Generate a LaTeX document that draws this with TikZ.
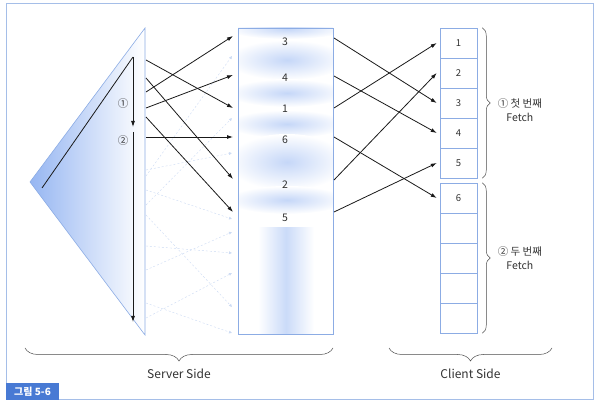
\documentclass[tikz,border=0pt]{standalone}
\usepackage{fontspec}
\setmainfont{Noto Sans CJK KR}
\usetikzlibrary{arrows.meta,decorations.pathreplacing}
\definecolor{frameblue}{RGB}{165,190,232}
\definecolor{lineblue}{RGB}{140,172,228}
\definecolor{tagblue}{RGB}{72,122,212}
\definecolor{bandblue}{RGB}{150,182,242}
\definecolor{txt}{RGB}{50,50,50}
\tikzset{
  arr/.style={-{Latex[length=6pt,width=4pt]},line width=.8pt,black!90},
  ghost/.style={dash pattern=on 2pt off 2pt,draw=lineblue!45,line width=.4pt,-{Latex[length=3pt,width=3pt]}},
  cell/.style={draw=lineblue,line width=.5pt,minimum width=37pt,minimum height=30pt,inner sep=0pt,font=\fontsize{9.5}{9.5}\selectfont,text=txt},
  num/.style={font=\fontsize{10.5}{10.5}\selectfont,text=txt},
  brc/.style={decorate,decoration={brace,amplitude=#1},draw=black!70,line width=.5pt},
}
\begin{document}
\begin{tikzpicture}[x=1pt,y=-1pt]
\useasboundingbox (0,0) rectangle (598,406);
\draw[frameblue,line width=1pt] (6,4) rectangle (593,400);
\fill[tagblue] (6,383) rectangle (59,400);
\node[text=white,font=\fontsize{10}{10}\selectfont\bfseries] (tag) at (32.5,391.5) {그림 5-6};
% server side
\shade[left color=bandblue,right color=white] (145,28) -- (30,182) -- (145,335) -- cycle;
\draw[lineblue,line width=.6pt] (145,28) -- (30,182) -- (145,335) -- cycle;
\coordinate (s0) at (42,188);
\coordinate (s1) at (133,57);
\coordinate (s2) at (133,127);
\coordinate (s3) at (133,132);
\coordinate (s4) at (133,322);
\draw[line width=.8pt,black!90] (s0) -- (s1);
\draw[arr] (s1) -- (s2);
\draw[arr] (s3) -- (s4);
\node[num] (f1) at (123,104) {①};
\node[num] (f2) at (123,141) {②};
% buffer
\begin{scope}
\clip (238,28) rectangle (333,334);
\foreach \y/\h in {29/5,60/10,93/7,124/7,162/14,200/7}
  \shade[inner color=bandblue!55,outer color=white] (287,\y) ellipse [x radius=60,y radius=2*\h];
\shade[left color=white,right color=white,middle color=bandblue!50] (258,228) rectangle (314,334);
\end{scope}
\node[draw=lineblue,line width=.6pt,minimum width=95pt,minimum height=306pt,inner sep=0pt] (buf) at (285.5,181) {};
\foreach \n/\y in {3/42,4/78,1/109,6/140,2/185,5/218}
  \node[num] (m\n) at (285,\y) {\n};
% faint second fetch
\foreach \a/\b [count=\i] in {176/56,205/118,170/153,190/219,270/232,246/253,318/273,215/307,303/333}{
  \coordinate (ga\i) at (146,\a);
  \coordinate (gb\i) at (232,\b);
  \draw[ghost] (ga\i) -- (gb\i);
}
% first fetch
\foreach \n/\a/\b in {3/92/36,4/108/75,1/60/108,6/137/137,2/78/179,5/117/212}{
  \coordinate (out\n) at (146,\a);
  \coordinate (in\n) at (233,\b);
  \draw[arr] (out\n) -- (in\n);
}
% client side
\foreach \i in {1,...,5}
  \node[cell] (c\i) at (458.5,{13+30*\i}) {\i};
\node[cell] (c6) at (458.5,198) {6};
\foreach \i in {7,...,10}
  \node[cell] (c\i) at (458.5,{198+30*(\i-6)}) {};
\foreach \n/\a in {3/38,4/76,1/108,6/137,2/180,5/212}{
  \coordinate (r\n) at (334,\a);
  \draw[arr] (r\n) -- ([xshift=-3pt]c\n.west);
}
% braces
\draw[brc=8pt] ([xshift=5pt]c1.north east) -- ([xshift=5pt]c5.south east)
  node[midway,anchor=west,xshift=12pt,yshift=-7pt,align=center,num,font=\fontsize{10.5}{14}\selectfont] (fetch1) {① 첫 번째\\Fetch};
\draw[brc=8pt] ([xshift=5pt]c6.north east) -- ([xshift=5pt]c10.south east)
  node[midway,anchor=west,xshift=12pt,align=center,num,font=\fontsize{10.5}{14}\selectfont] (fetch2) {② 두 번째\\Fetch};
\coordinate (sv1) at (25,348);
\coordinate (sv2) at (333,348);
\coordinate (cl1) at (389,348);
\coordinate (cl2) at (552,348);
\draw[brc=13pt,decoration={mirror}] (sv1) -- (sv2) node[midway,below=17pt,num,font=\fontsize{12}{12}\selectfont] (server) {Server Side};
\draw[brc=13pt,decoration={mirror}] (cl1) -- (cl2) node[midway,below=17pt,num,font=\fontsize{12}{12}\selectfont] (client) {Client Side};
\end{tikzpicture}
\end{document}
